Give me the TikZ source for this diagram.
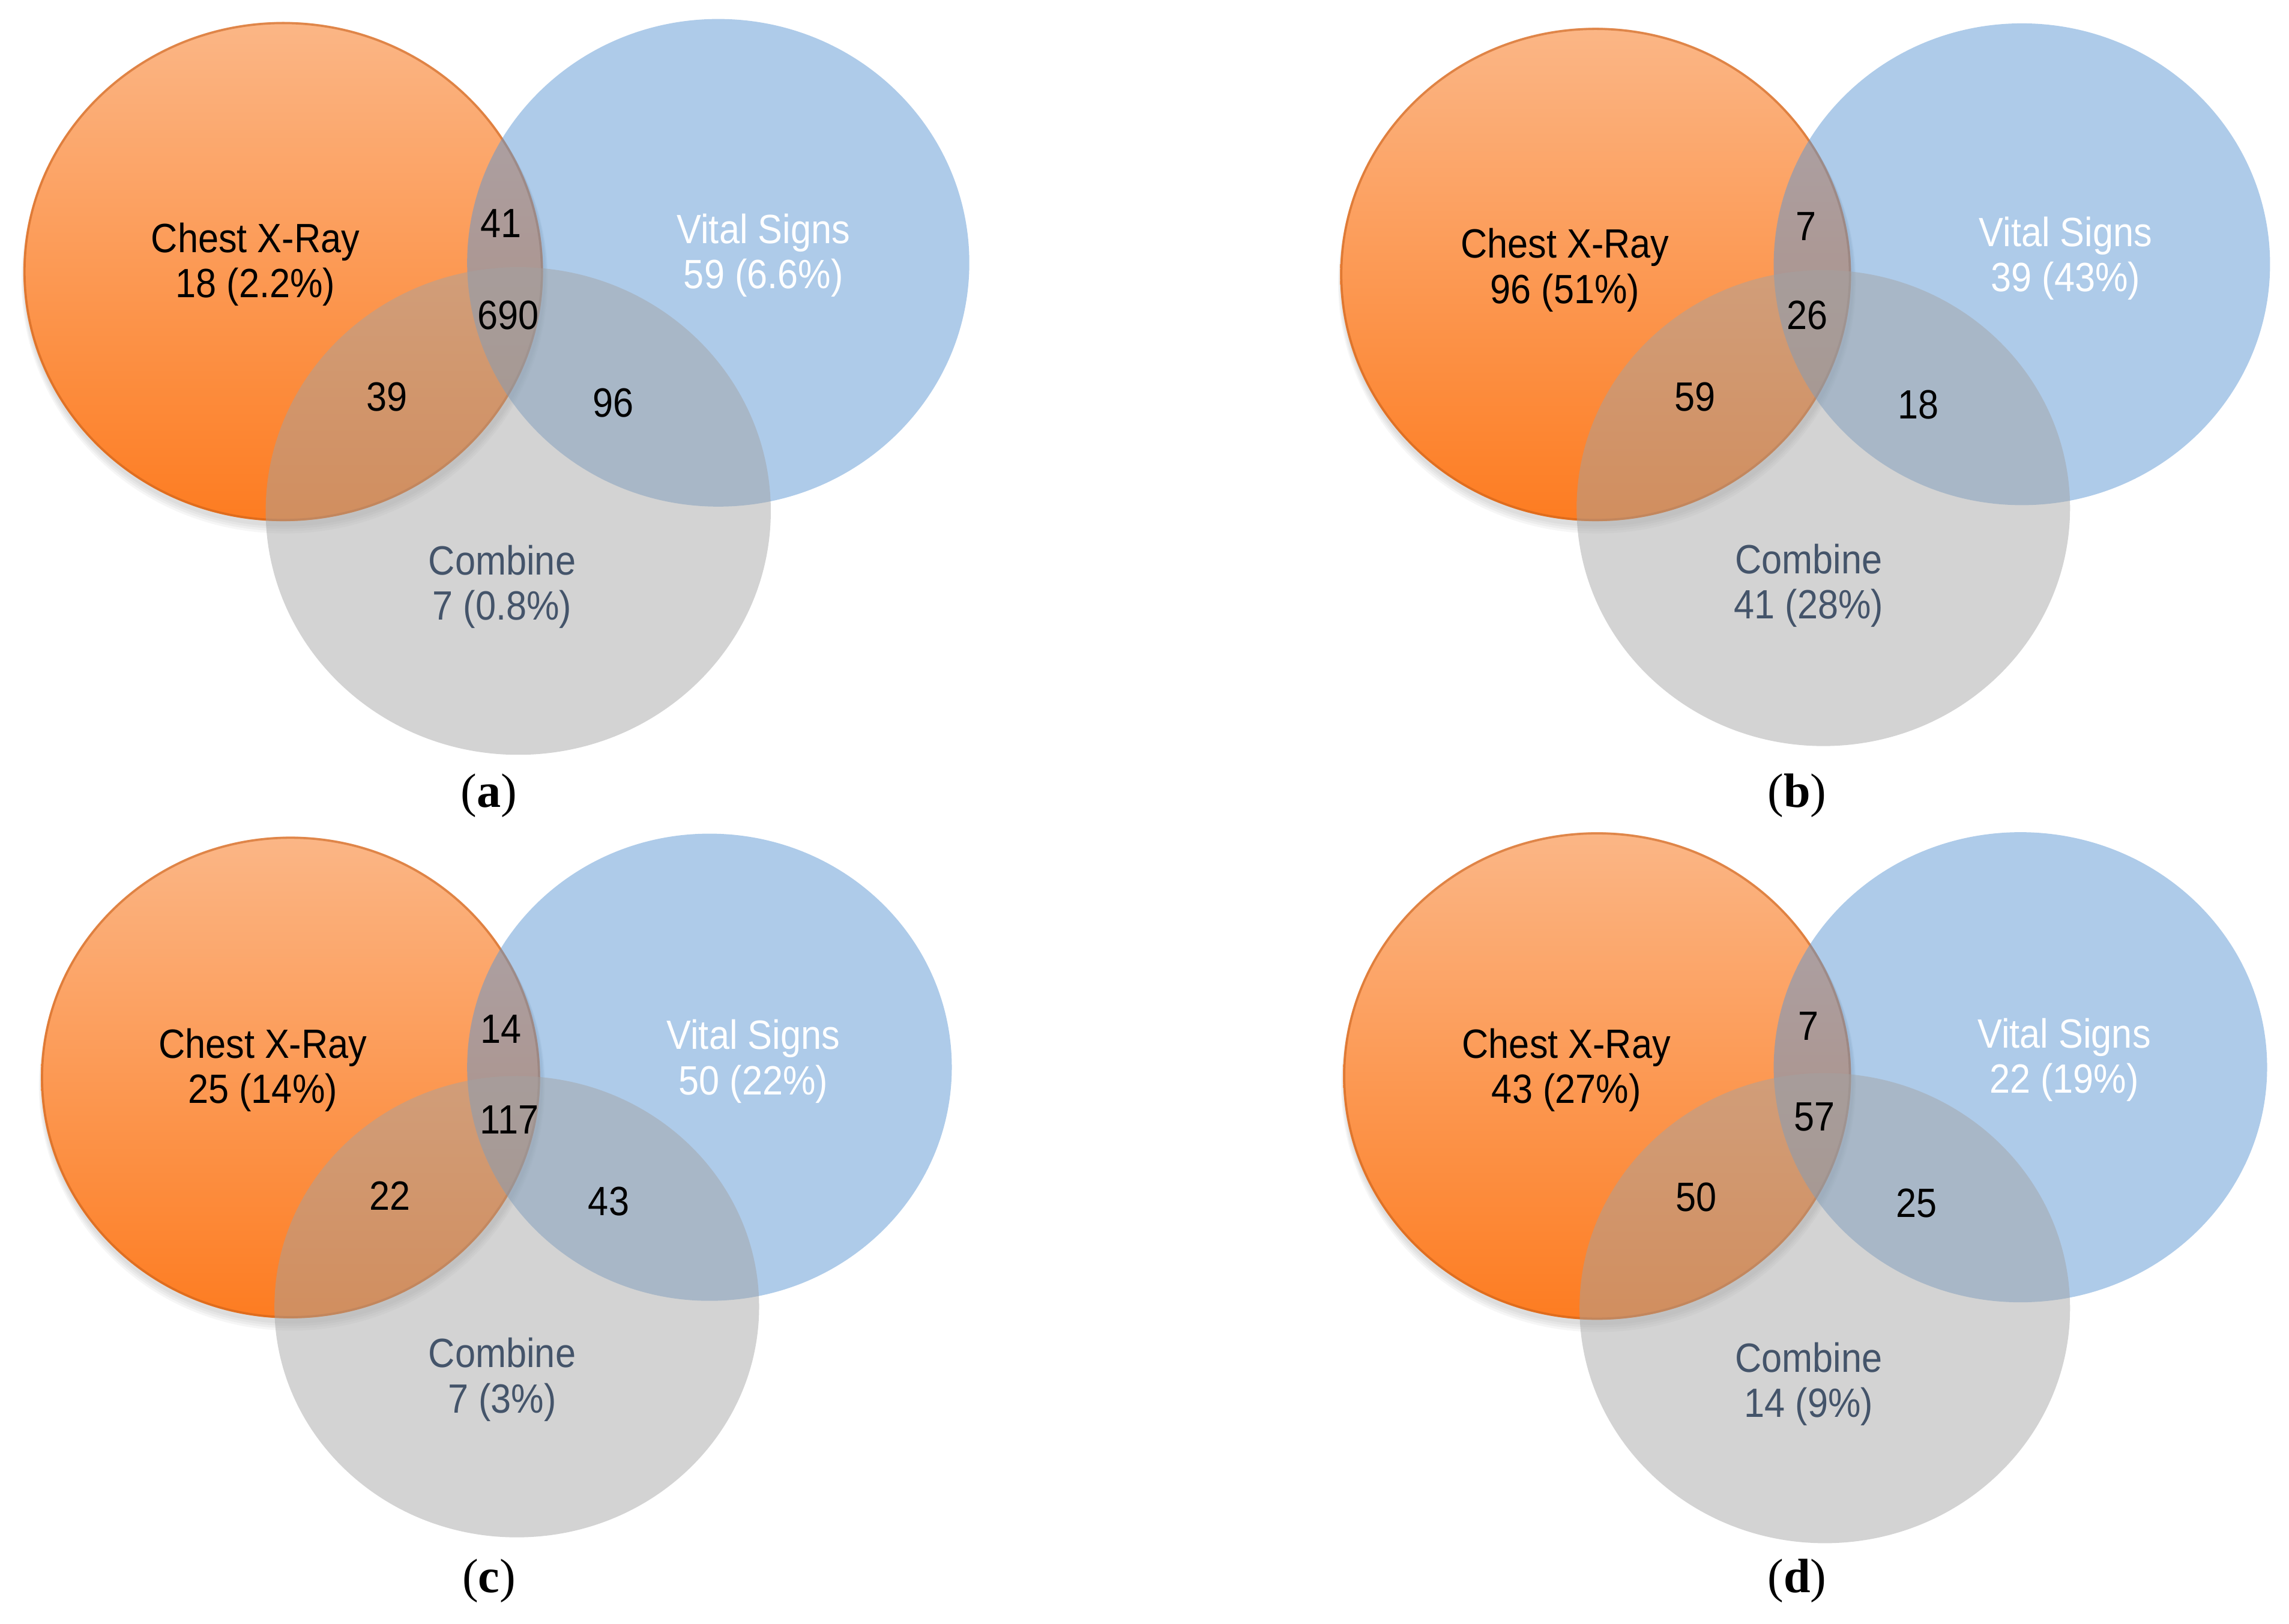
\documentclass[tikz,border=0pt]{standalone}
\usepackage{fontspec}
\setmainfont[FakeStretch=0.9]{Liberation Sans}
\newfontfamily\capfont{Liberation Serif}
\definecolor{orTop}{RGB}{251,182,134}
\definecolor{orBot}{RGB}{253,124,33}
\definecolor{orEdge}{RGB}{200,95,25}
\definecolor{vsBlue}{RGB}{93,151,211}
\definecolor{cbGray}{RGB}{163,163,163}
\definecolor{cbText}{RGB}{68,84,106}
\tikzset{
  orfill/.style={top color=orTop, bottom color=orBot},
  oredge/.style={draw=orEdge, draw opacity=0.55, line width=1.5pt},
  shadowell/.style={fill=black, fill opacity=0.035},
  bluefill/.style={fill=vsBlue, fill opacity=0.5},
  grayfill/.style={fill=cbGray, fill opacity=0.48},
  lbl/.style={font=\fontsize{28}{31}\selectfont, align=center, inner sep=0pt},
  num/.style={lbl, text=black},
  cxr/.style={lbl, text=black},
  vs/.style={lbl, text=white},
  cb/.style={lbl, text=cbText},
  panelcap/.style={font=\capfont\fontsize{33}{36}\selectfont, inner sep=0pt},
}
\newcommand{\orangeell}[4]{%
  \foreach \k in {1,...,4}{\fill[shadowell] (#1+1,#2+2+\k) ellipse [x radius=#3+\k*0.6, y radius=#4+\k*0.6];}
  \shade[orfill] (#1,#2) ellipse [x radius=#3, y radius=#4];
  \draw[oredge] (#1,#2) ellipse [x radius=#3-0.8, y radius=#4-0.8];
}
\begin{document}
\begin{tikzpicture}[x={(1pt,0)}, y={(0,-1pt)}]
\useasboundingbox (0,0) rectangle (1568,1112);

% ---------- panel (a)
\orangeell{194}{186}{178}{171}
\fill[bluefill] (492,180) ellipse [x radius=172, y radius=167];
\fill[grayfill] (355,350) ellipse [x radius=173, y radius=167];
\node[cxr] (a-cxr) at (175,181) {Chest X-Ray\\18 (2.2\%)};
\node[vs]  (a-vs)  at (523,175) {Vital Signs\\59 (6.6\%)};
\node[cb]  (a-cb)  at (344,402) {Combine\\7 (0.8\%)};
\node[num] (a-ov)  at (343,153) {41};
\node[num] (a-all) at (348,216) {690};
\node[num] (a-og)  at (265,272) {39};
\node[num] (a-bg)  at (420,276) {96};
\node[panelcap] (a-lab) at (335,545) {(\textbf{a})};

% ---------- panel (b)
\orangeell{1093}{188}{175}{169}
\fill[bluefill] (1385,181) ellipse [x radius=170, y radius=165];
\fill[grayfill] (1249,348) ellipse [x radius=169, y radius=163];
\node[cxr] (b-cxr) at (1072,185) {Chest X-Ray\\96 (51\%)};
\node[vs]  (b-vs)  at (1415,177) {Vital Signs\\39 (43\%)};
\node[cb]  (b-cb)  at (1239,401) {Combine\\41 (28\%)};
\node[num] (b-ov)  at (1237,155) {7};
\node[num] (b-all) at (1238,216) {26};
\node[num] (b-og)  at (1161,272) {59};
\node[num] (b-bg)  at (1314,277) {18};
\node[panelcap] (b-lab) at (1231,545) {(\textbf{b})};

% ---------- panel (c)
\orangeell{199}{738}{171}{165}
\fill[bluefill] (486,731) ellipse [x radius=166, y radius=160];
\fill[grayfill] (354,895) ellipse [x radius=166, y radius=158];
\node[cxr] (c-cxr) at (180,733) {Chest X-Ray\\25 (14\%)};
\node[vs]  (c-vs)  at (516,727) {Vital Signs\\50 (22\%)};
\node[cb]  (c-cb)  at (344,945) {Combine\\7 (3\%)};
\node[num] (c-ov)  at (343,705) {14};
\node[num] (c-all) at (349,767) {117};
\node[num] (c-og)  at (267,819) {22};
\node[num] (c-bg)  at (417,823) {43};
\node[panelcap] (c-lab) at (335,1083) {(\textbf{c})};

% ---------- panel (d)
\orangeell{1094}{737}{174}{167}
\fill[bluefill] (1384,731) ellipse [x radius=169, y radius=161];
\fill[grayfill] (1250,896) ellipse [x radius=168, y radius=161];
\node[cxr] (d-cxr) at (1073,733) {Chest X-Ray\\43 (27\%)};
\node[vs]  (d-vs)  at (1414,726) {Vital Signs\\22 (19\%)};
\node[cb]  (d-cb)  at (1239,948) {Combine\\14 (9\%)};
\node[num] (d-ov)  at (1239,703) {7};
\node[num] (d-all) at (1243,765) {57};
\node[num] (d-og)  at (1162,820) {50};
\node[num] (d-bg)  at (1313,824) {25};
\node[panelcap] (d-lab) at (1231,1083) {(\textbf{d})};
\end{tikzpicture}
\end{document}
